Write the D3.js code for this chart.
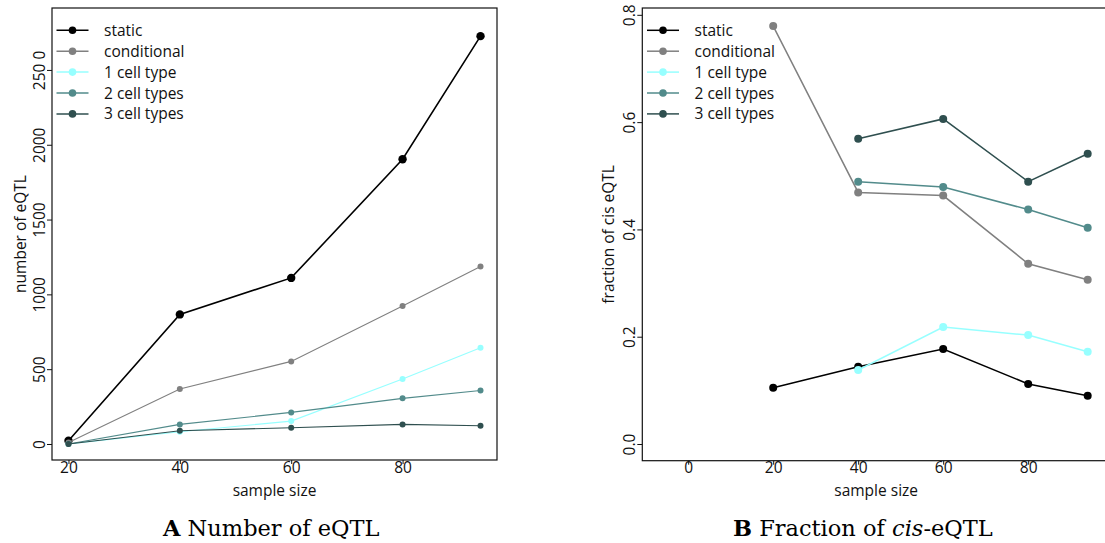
<!DOCTYPE html>
<html><head><meta charset="utf-8">
<script src="https://cdn.jsdelivr.net/npm/d3@7"></script>
<style>
body{margin:0;background:#fff;}
svg{display:block;}
text{font-family:"Open Sans",sans-serif;}
</style></head>
<body>
<svg id="c" width="1105" height="543"></svg>
<script>
const sampleSizes = [20, 40, 60, 80, 94];
const seriesNames = ["static", "conditional", "1 cell type", "2 cell types", "3 cell types"];
const seriesColors = ["#000000", "#808080", "#97FFFF", "#528B8B", "#2F4F4F"];

// Panel A: number of eQTL
const countStatic      = [22, 866, 1110, 1903, 2726];
const countConditional = [10, 367, 552, 923, 1186];
const countOneCell     = [0, 82, 153, 434, 643];
const countTwoCell     = [0, 131, 211, 305, 358];
const countThreeCell   = [0, 89, 109, 131, 122];

// Panel B: fraction of cis eQTL (null = not present)
const fracStatic      = [0.105, 0.144, 0.177, 0.112, 0.090];
const fracConditional = [0.779, 0.469, 0.463, 0.336, 0.306];
const fracOneCell     = [null, 0.138, 0.218, 0.203, 0.172];
const fracTwoCell     = [null, 0.489, 0.479, 0.437, 0.403];
const fracThreeCell   = [null, 0.569, 0.606, 0.489, 0.541];

const ticksAX = [20, 40, 60, 80];
const ticksAY = [0, 500, 1000, 1500, 2000, 2500];
const tickLabelsAY = ["0", "500", "1000", "1500", "2000", "250 0"];
const ticksBX = [0, 20, 40, 60, 80];
const ticksBY = [0, 0.2, 0.4, 0.6, 0.8];
const tickLabelsBY = ["0.0", "0.2", "0.4", "0.6", "0.8"];

const FS = "15.5px";
const svg = d3.select("#c");

function panel(cfg) {
  const g = svg.append("g");
  const x = d3.scaleLinear().domain(cfg.xDomain).range([cfg.left, cfg.right]);
  const y = d3.scaleLinear().domain(cfg.yDomain).range([cfg.bottom, cfg.top]);

  cfg.series.forEach((vals, i) => {
    const pts = sampleSizes.map((s, j) => ({s, v: vals[j]})).filter(d => d.v !== null);
    const line = d3.line().x(d => x(d.s)).y(d => y(d.v));
    g.append("path").attr("d", line(pts)).attr("fill", "none")
      .attr("stroke", seriesColors[i]).attr("stroke-width", cfg.lw[i]);
    g.selectAll(null).data(pts).enter().append("circle")
      .attr("cx", d => x(d.s)).attr("cy", d => y(d.v)).attr("r", cfg.r[i])
      .attr("fill", seriesColors[i]);
  });

  g.append("rect").attr("x", cfg.left).attr("y", cfg.top)
    .attr("width", cfg.right - cfg.left).attr("height", cfg.bottom - cfg.top)
    .attr("fill", "none").attr("stroke", "#111").attr("stroke-width", 1.2);

  const ya = d3.axisLeft(y).tickValues(cfg.yTicks).tickSize(5)
    .tickFormat((d, i) => cfg.yTickLabels[i]);
  const yg = g.append("g").attr("transform", `translate(${cfg.left},0)`).call(ya);
  yg.select(".domain").remove();
  yg.selectAll(".tick line").attr("stroke", "#111");
  yg.selectAll(".tick text").attr("x", null).attr("dy", null)
    .attr("text-anchor", "middle")
    .attr("transform", `translate(${cfg.yLabelX - cfg.left},0) rotate(-90)`)
    .attr("dy", "0.36em")
    .style("font-size", FS).style("font-family", "'Open Sans',sans-serif").attr("fill", "#111");

  const xa = d3.axisBottom(x).tickValues(cfg.xTicks).tickSize(4).tickFormat(d3.format("d"));
  const xg = g.append("g").attr("transform", `translate(0,${cfg.bottom})`).call(xa);
  xg.select(".domain").remove();
  xg.selectAll(".tick line").attr("stroke", "#111");
  xg.selectAll(".tick text").attr("y", null).attr("dy", null).attr("y", 12.5)
    .style("font-size", FS).style("font-family", "'Open Sans',sans-serif").attr("fill", "#111");

  g.append("text").attr("x", (cfg.left + cfg.right) / 2).attr("y", 495.5)
    .attr("text-anchor", "middle").style("font-size", FS).attr("fill", "#111")
    .text("sample size");
  g.append("text").attr("transform", `translate(${cfg.yTitleX},${(cfg.top + cfg.bottom) / 2}) rotate(-90)`)
    .attr("text-anchor", "middle").attr("dy", "0.36em").style("font-size", FS).attr("fill", "#111")
    .text(cfg.yTitle);

  const lg = g.append("g");
  seriesNames.forEach((n, i) => {
    const yy = 30.3 + i * 20.9;
    lg.append("line").attr("x1", cfg.legX).attr("x2", cfg.legX + 32)
      .attr("y1", yy).attr("y2", yy).attr("stroke", seriesColors[i]).attr("stroke-width", 1.5);
    lg.append("circle").attr("cx", cfg.legX + 16).attr("cy", yy).attr("r", 3.8).attr("fill", seriesColors[i]);
    lg.append("text").attr("x", cfg.legX + 47.5).attr("y", yy).attr("dy", "0.36em")
      .style("font-size", FS).attr("fill", "#111").text(n);
  });
}

panel({
  left: 52, right: 497, top: 8, bottom: 460,
  xDomain: [17.04, 96.96], yDomain: [-107, 2914],
  xTicks: ticksAX, yTicks: ticksAY, yTickLabels: tickLabelsAY,
  yLabelX: 39, yTitleX: 20, yTitle: "number of eQTL",
  series: [countStatic, countConditional, countOneCell, countTwoCell, countThreeCell],
  lw: [1.6, 1.1, 1.1, 1.1, 1.1], r: [4.2, 3, 3, 3, 3],
  legX: 56.5
});

panel({
  left: 642.3, right: 1110, top: 8, bottom: 460.7,
  xDomain: [-10.8, 99.25], yDomain: [-0.0311, 0.8127],
  xTicks: ticksBX, yTicks: ticksBY, yTickLabels: tickLabelsBY,
  yLabelX: 629, yTitleX: 608, yTitle: "fraction of cis eQTL",
  series: [fracStatic, fracConditional, fracOneCell, fracTwoCell, fracThreeCell],
  lw: [1.5, 1.5, 1.5, 1.5, 1.5], r: [4, 4, 4, 4, 4],
  legX: 647
});

const capA = svg.append("text").attr("x", 163).attr("y", 535.5)
  .style("font-family", "'DejaVu Serif',serif").style("font-size", "22.5px").attr("fill", "#000");
capA.append("tspan").style("font-weight", "bold").text("A");
capA.append("tspan").text(" Number of eQTL");
const capB = svg.append("text").attr("x", 733).attr("y", 535.5)
  .style("font-family", "'DejaVu Serif',serif").style("font-size", "22.5px").attr("fill", "#000");
capB.append("tspan").style("font-weight", "bold").text("B");
capB.append("tspan").text(" Fraction of ");
capB.append("tspan").style("font-style", "italic").text("cis");
capB.append("tspan").text("-eQTL");
</script>
</body></html>
